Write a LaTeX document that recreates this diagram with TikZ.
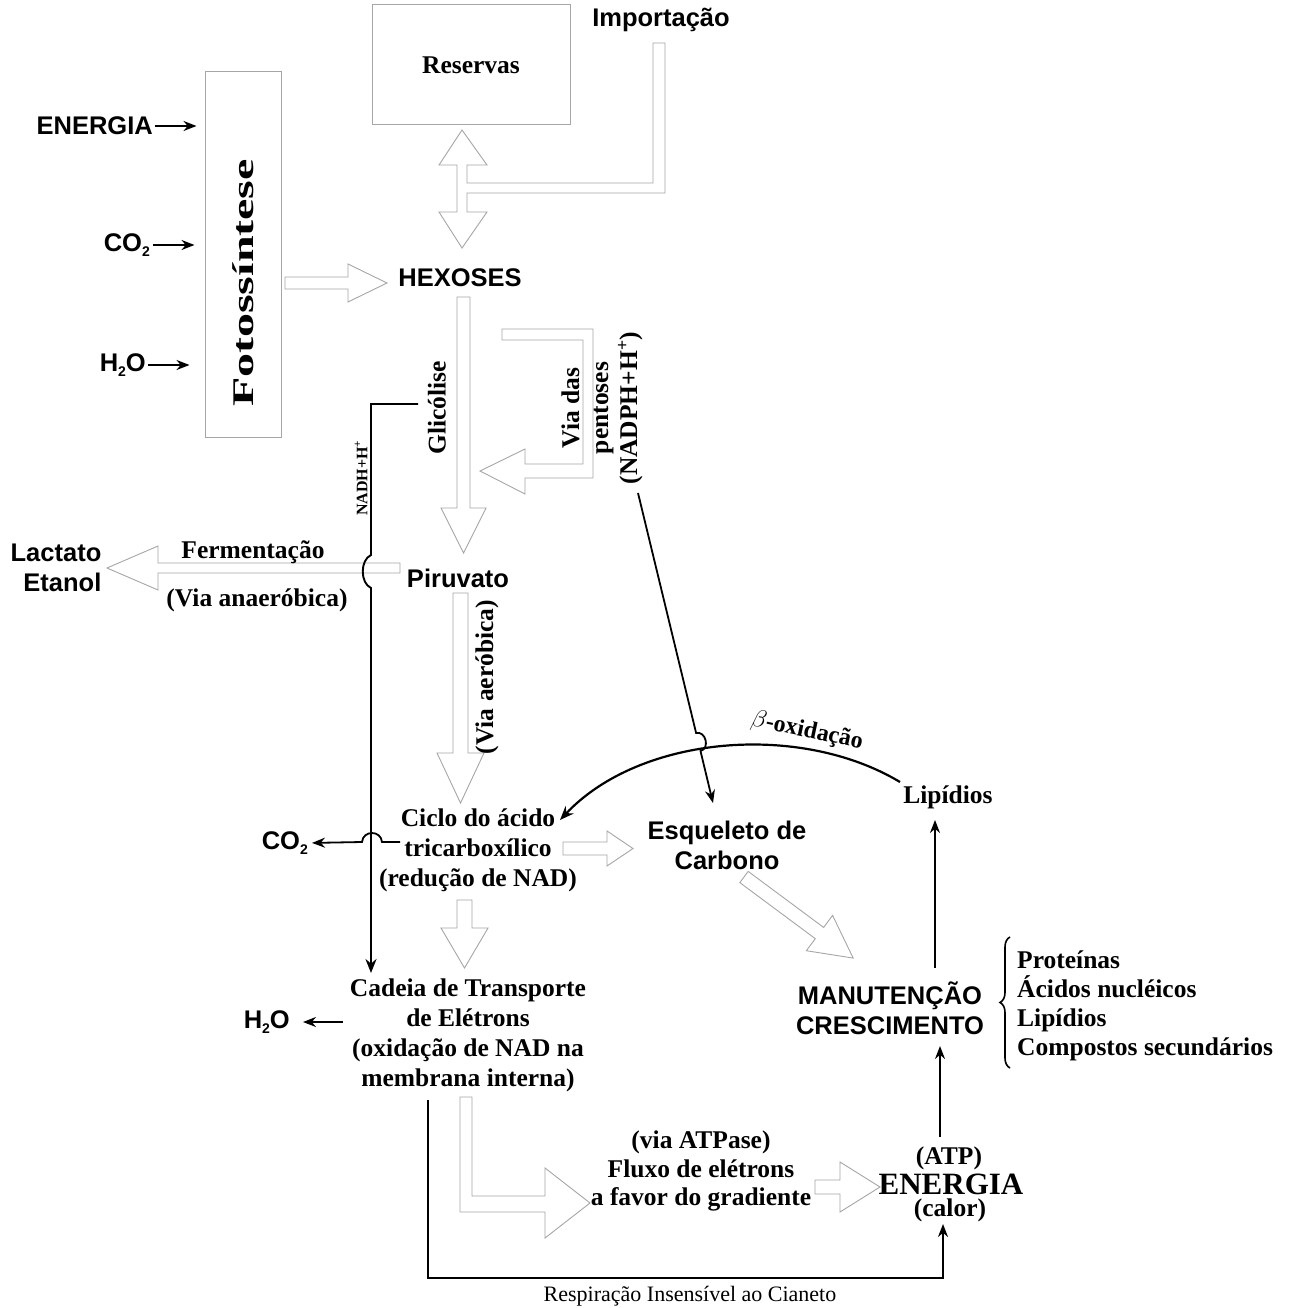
\documentclass[tikz,border=0pt]{standalone}
\usepackage{fontspec}
\usepackage{graphicx}
\setmainfont{Liberation Serif}
\setsansfont{Liberation Sans}
\usetikzlibrary{arrows.meta,decorations.pathreplacing}

\tikzset{
  hollow/.style={draw=gray!70, line width=0.9pt, line join=miter},
  box/.style={draw=gray!70, line width=1pt},
  sans/.style={font=\sffamily\bfseries\fontsize{25.5}{30}\selectfont, inner sep=0pt, align=center},
  serif/.style={font=\bfseries\fontsize{25.5}{30}\selectfont, inner sep=0pt, align=center},
  conn/.style={line width=1.8pt, -{Stealth[length=13pt,width=10pt]}},
  heavy/.style={line width=2.2pt, -{Stealth[length=14pt,width=11pt]}},
}

% small lowered index for chemical formulas
\newcommand\chemidx[1]{\raisebox{-0.35ex}{\fontsize{14}{14}\selectfont #1}}

% hollow block arrow: x, y, angle, length, shaft half width, head half width, head length
\newcommand\hollowarrow[7]{%
  \draw[hollow, shift={(#1,#2)}, rotate=#3]
    (0,-#5) -- ({#4-#7},-#5) -- ({#4-#7},-#6) -- (#4,0) -- ({#4-#7},#6)
    -- ({#4-#7},#5) -- (0,#5) -- cycle;}

\begin{document}
\begin{tikzpicture}[x=1pt,y=-1pt]
\fill[white] (0,0) rectangle (1289,1308);
\useasboundingbox (0,0) rectangle (1289,1308);

% ---------- boxes ----------
\node[box, serif, minimum width=198pt, minimum height=120pt] (reservas) at (471,65) {Reservas};
\node[box, minimum width=76pt, minimum height=365pt] (fbox) at (243,254.5) {};
\node[serif, rotate=90] (fotos) at (243,283) {\fontsize{30}{30}\selectfont\scalebox{1.6}[1]{Fotossíntese}};
\node[sans] (import) at (661,20) {Importação};

% ---------- inputs to photosynthesis ----------
\node[sans, anchor=east] (energia) at (153,126) {ENERGIA};
\node[sans, anchor=east] (co2in) at (150,245) {CO\chemidx{2}};
\node[sans, anchor=east] (h2oin) at (146,365) {H\chemidx{2}O};
\draw[conn, shorten <=2pt, shorten >=8pt] (energia.east) -- (energia.east -| fbox.west);
\draw[conn, shorten <=3pt, shorten >=10pt] (co2in.east) -- (co2in.east -| fbox.west);
\draw[conn, shorten <=2pt, shorten >=15pt] (h2oin.east) -- (h2oin.east -| fbox.west);

% ---------- reserves / import ----------
\draw[hollow] (462,130) -- (487,165) -- (467,165) -- (467,183) -- (653,183) -- (653,43)
  -- (665,43) -- (665,193) -- (467,193) -- (467,212) -- (487,212) -- (462,248)
  -- (439,212) -- (457,212) -- (457,165) -- (439,165) -- cycle;

% ---------- hexoses and glycolysis ----------
\node[sans] (hexoses) at (460,278) {HEXOSES};
\hollowarrow{285}{283}{0}{102}{6}{19}{39}
\hollowarrow{463.5}{297}{-90}{256}{6.5}{22.5}{45}
\node[serif, rotate=90] (glic) at (437,408) {Glicólise};

% pentose pathway
\draw[hollow] (502,329) -- (593,329) -- (593,478) -- (525,478) -- (525,494) -- (480,471)
  -- (525,449) -- (525,464) -- (583,464) -- (583,340) -- (502,340) -- cycle;
\node[serif, rotate=90, font=\bfseries\fontsize{25.5}{29}\selectfont] (vpent) at (602,408)
  {Via das\\pentoses\\(NADPH+H\textsuperscript{+})};

% ---------- pyruvate ----------
\node[sans] (piruvato) at (458,578) {Piruvato};
\hollowarrow{400}{568}{180}{293}{5}{22}{51}
\node[serif] (ferm) at (253,552) {Fermentação};
\node[serif] (anaer) at (257,600) {(Via anaeróbica)};
\node[sans, align=right] (lact) at (56,568) {Lactato\\Etanol};

\hollowarrow{460.5}{593}{-90}{210}{7.5}{23.5}{50}
\node[serif, rotate=90] (aerob) at (487,677) {(Via aeróbica)};

% ---------- TCA cycle ----------
\node[serif] (ciclo) at (478,850) {Ciclo do ácido\\tricarboxílico\\(redução de NAD)};
\node[sans, anchor=east] (co2out) at (308,843) {CO\chemidx{2}};
\hollowarrow{563}{848.5}{0}{70}{6.5}{17.5}{26}
\hollowarrow{464.5}{900}{-90}{68}{7.5}{23.5}{40}

\node[sans] (esq) at (727,845) {Esqueleto de\\Carbono};
\hollowarrow{744}{877}{-36.6}{136}{7}{22}{42}

% ---------- electron transport ----------
\node[serif] (cadeia) at (468,1035) {Cadeia de Transporte\\de Elétrons\\(oxidação de NAD na\\membrana interna)};
\node[sans, anchor=east] (h2oout) at (290,1022) {H\chemidx{2}O};

\draw[hollow] (460,1097) -- (460,1212) -- (545,1212) -- (545,1238) -- (590,1203) -- (545,1168)
  -- (545,1196) -- (472,1196) -- (472,1097) -- cycle;
\node[serif, font=\bfseries\fontsize{25.5}{28.5}\selectfont] (fluxo) at (701,1171)
  {(via ATPase)\\Fluxo de elétrons\\a favor do gradiente};
\hollowarrow{815}{1187}{0}{65}{7}{25}{40}

\node[serif] (atp) at (949,1158) {(ATP)};
\node[serif, font=\bfseries\fontsize{31}{31}\selectfont] (energy) at (951,1184) {ENERGIA};
\node[serif] (calor) at (950,1210) {(calor)};

% ---------- maintenance and growth ----------
\node[sans] (manut) at (890,1008) {MANUTENÇÃO\\CRESCIMENTO};
\draw[line width=1.6pt, decorate, decoration={brace, amplitude=10pt}] (1010,1068) -- (1010,937);
\node[serif, anchor=west, align=left, font=\bfseries\fontsize{25.5}{29}\selectfont] (list) at (1017,1006)
  {Proteínas\\Ácidos nucléicos\\Lipídios\\Compostos secundários};
\node[serif] (lipid) at (948,797) {Lipídios};
\node[serif, rotate=-12, font=\bfseries\fontsize{24}{24}\selectfont] (beta) at (807,731) {$\beta$-oxidação};

\node[font=\fontsize{22}{22}\selectfont, inner sep=0pt] (resp) at (690,1296) {Respiração Insensível ao Cianeto};

% ---------- black connectors ----------
\coordinate (nadhstart) at (418,404);
\coordinate (nadhend) at (371,973);
\node[font=\bfseries\fontsize{16}{16}\selectfont, rotate=90, inner sep=0pt] (nadh) at (361,478) {NADH+H\textsuperscript{+}};
\draw[heavy, line width=1.9pt] (nadhstart) -- (371,404) -- (371,555)
  .. controls (360,560) and (360,583) .. (371,588) -- (nadhend);

\coordinate (co2start) at (400,842);
\draw[conn, shorten >=4pt] (co2start) -- (382,842) .. controls (381,830) and (363,830) .. (362,842) -- (co2out.east);

\coordinate (h2ostart) at (343,1022);
\draw[conn, shorten >=13pt] (h2ostart) -- (h2oout.east);

\coordinate (npstart) at (638,493);
\coordinate (npend) at (713,803);
\draw[conn] (npstart) -- (696.1,733) .. controls (705.8,730.6) and (710.2,748.6) .. (700.5,751) -- (npend);

\coordinate (betastart) at (900,782);
\coordinate (betaend) at (560,820);
\draw[heavy] (betastart) .. controls (800,722) and (640,735) .. (betaend);

\coordinate (ml) at (935,968);
\draw[conn] (ml) -- (935,820);
\coordinate (em) at (940,1137);
\draw[conn] (em) -- (940,1046);

\coordinate (rstart) at (428,1100);
\coordinate (rb) at (943,1278);
\draw[conn] (rstart) |- (rb) -- (943,1224);
\end{tikzpicture}
\end{document}
